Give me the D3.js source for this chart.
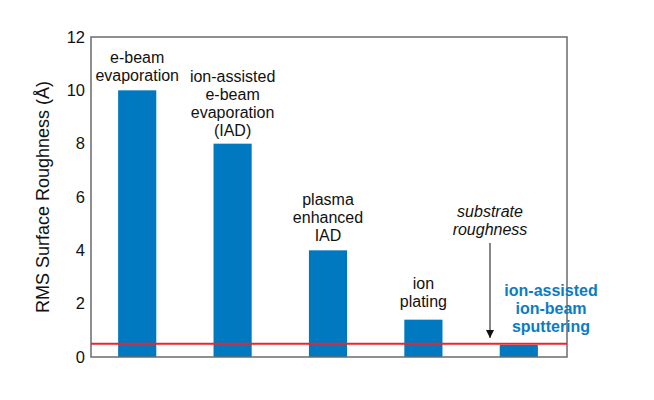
<!DOCTYPE html>
<html>
<head>
<meta charset="utf-8">
<script src="https://cdn.jsdelivr.net/npm/d3@7"></script>
<style>
  html, body { margin: 0; padding: 0; background: #fff; }
  svg { display: block; font-family: "Liberation Sans", Arial, sans-serif; }
</style>
</head>
<body>
<div id="chart"></div>
<script>
// Данные диаграммы
const methods = ['e-beam evaporation', 'ion-assisted e-beam evaporation (IAD)', 'plasma enhanced IAD', 'ion plating', 'ion-assisted ion-beam sputtering'];
const labelLines = [
    ['e-beam', 'evaporation'],
    ['ion-assisted', 'e-beam', 'evaporation', '(IAD)'],
    ['plasma', 'enhanced', 'IAD'],
    ['ion', 'plating'],
    ['ion-assisted', 'ion-beam', 'sputtering']
];
const roughness = [10, 8, 4, 1.4, 0.45];
const substrateRoughness = 0.5;
const yTicks = [0, 2, 4, 6, 8, 10, 12];

const width = 654, height = 400;
const plotLeft = 91, plotRight = 567, plotTop = 37, plotBottom = 357;

const svg = d3.select('#chart').append('svg')
    .attr('width', width)
    .attr('height', height);

const x = d3.scaleBand()
    .domain(methods)
    .range([plotLeft - 1.5, plotRight - 0.5])
    .paddingInner(0.6)
    .paddingOuter(0.3);

const y = d3.scaleLinear()
    .domain([0, 12])
    .range([plotBottom, plotTop]);

// Столбцы
svg.append('g')
    .selectAll('rect')
    .data(roughness)
    .enter().append('rect')
    .attr('x', (d, i) => x(methods[i]))
    .attr('y', d => y(d))
    .attr('width', x.bandwidth())
    .attr('height', d => y(0) - y(d))
    .attr('fill', '#0079c1');

// Рамка
svg.append('rect')
    .attr('x', plotLeft)
    .attr('y', plotTop)
    .attr('width', plotRight - plotLeft)
    .attr('height', plotBottom - plotTop)
    .attr('fill', 'none')
    .attr('stroke', '#6b6b6b')
    .attr('stroke-width', 1.5);

// Ось Y (без засечек)
const yAxis = svg.append('g')
    .attr('transform', `translate(${plotLeft},0)`)
    .call(d3.axisLeft(y).tickValues(yTicks).tickSize(0).tickPadding(6));
yAxis.select('.domain').remove();
yAxis.selectAll('text')
    .attr('font-size', '16.5px')
    .attr('font-family', '"Liberation Sans", Arial, sans-serif')
    .attr('fill', '#111');

svg.append('text')
    .attr('transform', `translate(49,${(plotTop + plotBottom) / 2}) rotate(-90)`)
    .attr('text-anchor', 'middle')
    .attr('font-size', '18px')
    .attr('fill', '#111')
    .text('RMS Surface Roughness (Å)');

// Линия шероховатости подложки
svg.append('line')
    .attr('x1', plotLeft)
    .attr('x2', plotRight)
    .attr('y1', y(substrateRoughness))
    .attr('y2', y(substrateRoughness))
    .attr('stroke', '#e8262d')
    .attr('stroke-width', 2);

// Подписи столбцов
const gaps = [9, 8, 9, 13, 13];
labelLines.forEach((lines, i) => {
    const isLast = i === labelLines.length - 1;
    const cx = isLast ? 551 : x(methods[i]) + x.bandwidth() / 2;
    const baseY = y(roughness[i]) - gaps[i];
    const lh = 18;
    const t = svg.append('text')
        .attr('text-anchor', 'middle')
        .attr('font-size', '16px')
        .attr('font-weight', isLast ? 'bold' : 'normal')
        .attr('fill', isLast ? '#0a7cc4' : '#111');
    lines.forEach((line, j) => {
        t.append('tspan')
            .attr('x', cx)
            .attr('y', baseY - (lines.length - 1 - j) * lh)
            .text(line);
    });
});

// Подпись и стрелка подложки
svg.append('defs').append('marker')
    .attr('id', 'arrow')
    .attr('viewBox', '0 -5 10 10')
    .attr('refX', 10)
    .attr('refY', 0)
    .attr('markerWidth', 8)
    .attr('markerHeight', 8)
    .attr('markerUnits', 'userSpaceOnUse')
    .attr('orient', 'auto')
    .append('path')
    .attr('d', 'M0,-5L10,0L0,5Z')
    .attr('fill', '#111');

const subX = 490;
const subText = svg.append('text')
    .attr('text-anchor', 'middle')
    .attr('font-size', '16px')
    .attr('font-style', 'italic')
    .attr('fill', '#111');
['substrate', 'roughness'].forEach((line, j) => {
    subText.append('tspan')
        .attr('x', subX)
        .attr('y', 217 + j * 18)
        .text(line);
});

svg.append('line')
    .attr('x1', subX)
    .attr('x2', subX)
    .attr('y1', 243)
    .attr('y2', 338)
    .attr('stroke', '#111')
    .attr('stroke-width', 1)
    .attr('marker-end', 'url(#arrow)');
</script>
</body>
</html>
